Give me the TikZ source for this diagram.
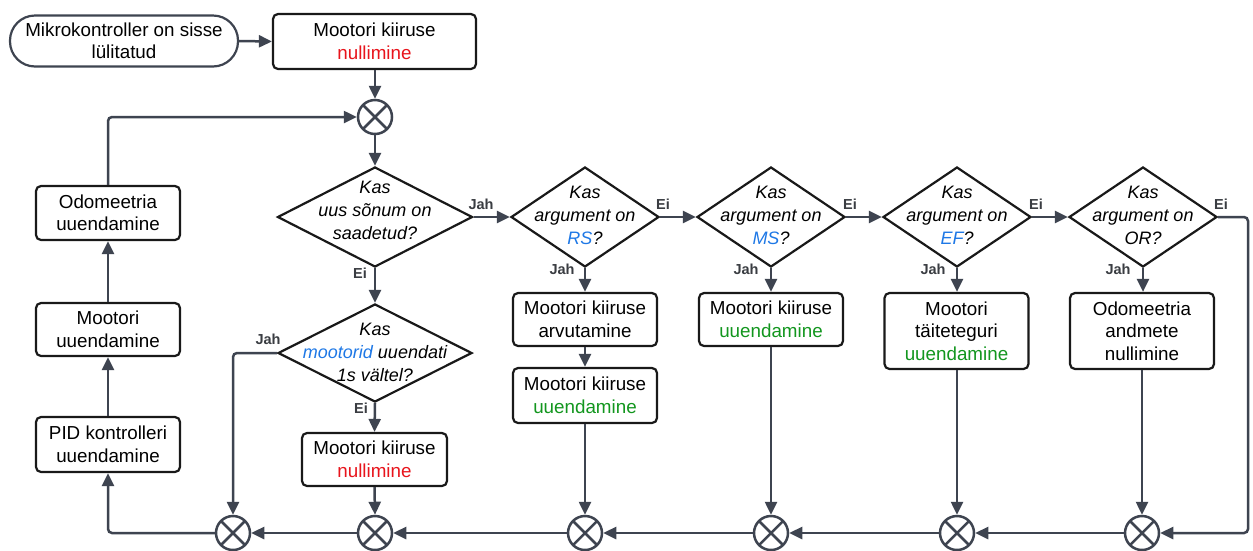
\documentclass[tikz,border=0pt]{standalone}
\usepackage{fontspec}
\setmainfont{Liberation Sans}
\usetikzlibrary{shapes.geometric,arrows.meta,calc}
\definecolor{slate}{HTML}{3E4450}
\definecolor{myred}{HTML}{E8141C}
\definecolor{mygreen}{HTML}{12961E}
\definecolor{myblue}{HTML}{1E78E6}
\definecolor{lbl}{HTML}{3A3D42}
\begin{document}
\begin{tikzpicture}[x=1pt,y=-1pt,
 box/.style={draw=black!90, line width=2.2pt, rounded corners=5pt, fill=white, minimum width=144pt, minimum height=54pt, align=center, font=\fontsize{18.8}{22.5}\selectfont, inner sep=2pt},
 term/.style={draw=slate, line width=2.2pt, rounded corners=25pt, fill=white, minimum width=228pt, minimum height=51pt, align=center, font=\fontsize{18.8}{22.5}\selectfont, inner sep=2pt},
 dia/.style={diamond, draw=black!90, line width=2.2pt, minimum width=148pt, minimum height=100pt, inner sep=0pt, fill=white},
 dtext/.style={align=center, font=\fontsize{18}{23}\selectfont\itshape, inner sep=0pt},
 junc/.style={circle, draw=slate, line width=2.5pt, minimum size=34pt, inner sep=0pt, fill=white,
   path picture={\draw[slate, line width=2.5pt] (path picture bounding box.south west) -- (path picture bounding box.north east)
     (path picture bounding box.north west) -- (path picture bounding box.south east);}},
 conn/.style={draw=slate, line width=2.5pt, -{Triangle[length=13pt,width=12pt]}, rounded corners=4pt},
 lab/.style={font=\fontsize{14.5}{16}\selectfont\bfseries, text=lbl, inner sep=0pt}
]
\fill[white] (0,0) rectangle (1253,550);
\useasboundingbox (0,0) rectangle (1253,550);

% nodes
\node[term] (start) at (124,41) {Mikrokontroller on sisse\\lülitatud};
\node[box, minimum width=203pt, minimum height=55pt] (b0) at (374.5,41.5) {Mootori kiiruse\\\textcolor{myred}{nullimine}};
\node[junc] (j0) at (375,117) {};

\node[dia, minimum width=195pt] (d1) at (375,217) {};
\node[dtext] (d1t) at (375,210) {Kas\\uus sõnum on\\saadetud?};
\node[dia] (d2) at (585,217) {};
\node[dtext] (d2t) at (585,215) {Kas\\argument on\\\textcolor{myblue}{RS}?};
\node[dia] (d3) at (771,217) {};
\node[dtext] (d3t) at (771,215) {Kas\\argument on\\\textcolor{myblue}{MS}?};
\node[dia] (d4) at (957,217) {};
\node[dtext] (d4t) at (957,215) {Kas\\argument on\\\textcolor{myblue}{EF}?};
\node[dia] (d5) at (1143,217) {};
\node[dtext] (d5t) at (1143,215) {Kas\\argument on\\OR?};
\node[dia, minimum width=194pt, minimum height=98pt] (d6) at (375,353) {};
\node[dtext] (d6t) at (375,352) {Kas\\\textcolor{myblue}{mootorid} uuendati\\1s vältel?};

\node[box, minimum height=53pt] (brs1) at (585,319.5) {Mootori kiiruse\\arvutamine};
\node[box, minimum height=55pt] (brs2) at (585,395.5) {Mootori kiiruse\\\textcolor{mygreen}{uuendamine}};
\node[box, minimum height=53pt] (bms) at (771,319.5) {Mootori kiiruse\\\textcolor{mygreen}{uuendamine}};
\node[box, minimum height=76pt] (bef) at (956.5,331) {Mootori\\täiteteguri\\\textcolor{mygreen}{uuendamine}};
\node[box, minimum height=76pt] (bor) at (1142,331) {Odomeetria\\andmete\\nullimine};
\node[box, minimum width=145pt, minimum height=53pt] (b6) at (374.5,459.5) {Mootori kiiruse\\\textcolor{myred}{nullimine}};

\node[box, minimum height=55pt] (pid) at (108,444.5) {PID kontrolleri\\uuendamine};
\node[box, minimum height=53pt] (mot) at (108,329.5) {Mootori\\uuendamine};
\node[box, minimum height=54pt] (odo) at (108,213) {Odomeetria\\uuendamine};

\node[junc] (j1) at (233,533) {};
\node[junc] (j2) at (375,533) {};
\node[junc] (j3) at (585,533) {};
\node[junc] (j4) at (771,533) {};
\node[junc] (j5) at (957,533) {};
\node[junc] (j6) at (1142,533) {};
\coordinate (rc) at (1248,217);

% connectors
\draw[conn] (start.east) -- (b0.west);
\draw[conn] (j0 |- b0.south) -- (j0.north);
\draw[conn] (j0.south) -- (d1.north);
\draw[conn] (d1.east) -- (d2.west);
\draw[conn] (d2.east) -- (d3.west);
\draw[conn] (d3.east) -- (d4.west);
\draw[conn] (d4.east) -- (d5.west);
\draw[conn] (d5.east) -- (rc) -- (rc |- j6) -- (j6.east);
\draw[conn] (d2.south) -- (brs1.north);
\draw[conn] (brs1.south) -- (brs2.north);
\draw[conn] (brs2.south) -- (j3.north);
\draw[conn] (d3.south) -- (bms.north);
\draw[conn] (bms.south) -- (j4.north);
\draw[conn] (d4.south) -- (bef.north -| d4);
\draw[conn] (bef.south -| j5) -- (j5.north);
\draw[conn] (d5.south) -- (bor.north -| d5);
\draw[conn] (bor.south) -- (j6.north);
\draw[conn] (j6.west) -- (j5.east);
\draw[conn] (j5.west) -- (j4.east);
\draw[conn] (j4.west) -- (j3.east);
\draw[conn] (j3.west) -- (j2.east);
\draw[conn] (j2.west) -- (j1.east);
\draw[conn] (j1.west) -| (pid.south);
\draw[conn] (pid.north) -- (mot.south);
\draw[conn] (mot.north) -- (odo.south);
\draw[conn] (odo.north) |- (j0.west);
\draw[conn] (d1.south) -- (d6.north);
\draw[conn] (d6.west) -| (j1.north);
\draw[conn] (d6.south) -- (b6.north);
\draw[conn] (b6.south) -- (j2.north);

% labels
\node[lab] (l1) at (481,204) {Jah};
\node[lab] (l2) at (360,273) {Ei};
\node[lab] (l3) at (663,204) {Ei};
\node[lab] (l4) at (562,269) {Jah};
\node[lab] (l5) at (850,204) {Ei};
\node[lab] (l6) at (746,269) {Jah};
\node[lab] (l7) at (1036,204) {Ei};
\node[lab] (l8) at (933,269) {Jah};
\node[lab] (l9) at (1221,204) {Ei};
\node[lab] (l10) at (1118,269) {Jah};
\node[lab] (l11) at (268,339) {Jah};
\node[lab] (l12) at (361,408) {Ei};
\end{tikzpicture}
\end{document}
